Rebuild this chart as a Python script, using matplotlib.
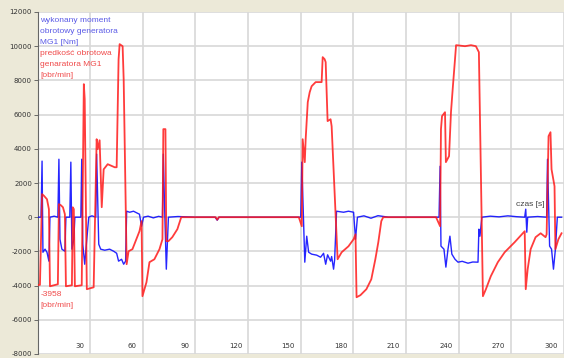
import numpy as np
import matplotlib
matplotlib.use("Agg")
import matplotlib.pyplot as plt
import matplotlib.transforms as mtransforms

# speed of generator MG1 [obr/min]
speed_t = [0, 1.4, 2.6, 3.7, 5.4, 6.5, 7.1, 11.6, 12.2, 13.3, 14.5, 15.6, 16.2, 19.6, 20.1, 20.7,
           21.3, 25.2, 26.4, 26.9, 28.1, 32.0, 33.7, 34.3, 35.4, 36.6, 37.7, 40.0, 44.0, 45.1,
           46.2, 46.8, 48.5, 49.1, 50.8, 51.9, 54.1, 57.0, 58.1, 59.3, 59.8, 62.1, 63.8, 66.6,
           69.5, 71.2, 71.7, 72.9, 73.4, 74.6, 76.8, 79.7, 81.9, 101.5, 102.4, 103.3, 148.9,
           150.6, 151.1, 152.3, 152.8, 154.0, 155.1, 156.2, 158.5, 161.9, 162.5, 163.6, 164.2,
           165.3, 167.0, 167.6, 171.0, 173.3, 177.2, 180.1, 181.2, 181.8, 184.0, 187.4, 190.2,
           192.5, 194.2, 195.9, 197.0, 227.1, 229.4, 229.9, 230.5, 232.2, 232.7, 234.5, 235.6,
           236.7, 237.9, 238.5, 243.6, 247.0, 249.8, 251.5, 253.8, 255.5, 258.3, 262.3, 266.2,
           271.9, 277.6, 278.2, 279.3, 281.0, 283.8, 286.7, 289.5, 290.1, 291.2, 292.3, 292.9,
           294.6, 295.1, 296.8, 298.6]
speed_v = [-3958, -3958, 1350, 1250, 1050, 470, -4040, -3920, 760, 700, 580, 175, -4040, -3980,
           580, 470, -4040, -3980, 7780, 6900, -4210, -4100, 4560, 3980, 4500, 585, 2800, 3100,
           2920, 2920, 9240, 10120, 10000, 8070, -2750, -1990, -1870, -1110, -820, -230, -4620,
           -3800, -2630, -2460, -1870, -1290, 5150, 5150, -1400, -1400, -1170, -700, 0, 0, -150,
           0, 0, -530, 4560, 3220, 4560, 6730, 7310, 7660, 7900, 7900, 9360, 9240, 9070, 5620,
           5730, 5320, -2460, -2050, -1700, -1290, -1000, -4680, -4560, -4210, -3630, -2460,
           -1460, -230, 0, 0, -530, 5150, 5910, 6140, 3220, 3570, 6140, 7660, 9240, 10060, 10000,
           10060, 10000, 9650, -4620, -4210, -3450, -2630, -2050, -1460, -820, -4210, -3040,
           -1870, -1170, -940, -1170, -1000, 4740, 4970, 2800, 1810, -1870, -1290, -940]

# torque of generator MG1 [Nm]
torque_t = [0, 2.0, 2.6, 3.1, 4.3, 5.4, 6.5, 7.1, 9.5, 11.6, 12.2, 12.8, 13.9, 15.6, 16.2, 18.4,
            19.0, 19.6, 20.7, 21.3, 24.7, 25.2, 25.8, 26.9, 28.1, 29.2, 31.0, 33.2, 33.7, 34.9,
            36.0, 38.3, 41.1, 43.4, 45.1, 46.2, 47.9, 49.1, 50.2, 50.8, 52.5, 54.7, 57.0, 58.1,
            59.3, 60.4, 63.0, 66.0, 69.0, 71.2, 71.7, 72.3, 73.4, 74.6, 80.0, 90.0, 101.2, 102.4,
            103.5, 120.0, 135.0, 150.0, 150.6, 152.3, 153.4, 154.5, 156.2, 159.1, 161.3, 163.0,
            164.2, 165.3, 167.0, 167.6, 168.7, 169.3, 170.4, 174.4, 177.2, 180.1, 181.2, 182.3,
            186.0, 190.0, 194.0, 200.0, 228.8, 229.4, 229.9, 231.6, 232.7, 233.9, 235.0, 236.1,
            237.9, 239.6, 242.0, 245.3, 248.0, 251.0, 251.5, 252.1, 253.2, 258.0, 263.0, 268.0,
            273.0, 277.6, 278.2, 278.8, 279.3, 285.0, 290.1, 290.6, 291.8, 292.9, 294.0, 295.1,
            296.2, 298.6]
torque_v = [0, 0, 3280, -2050, -1870, -2050, -2570, 0, 60, 0, 3390, -1290, -1870, -1990, 0, 0,
            3220, -1870, -1290, 0, 0, 3390, -1580, -2750, -1290, 0, 80, 0, 3690, -1580, -1870,
            -1930, -1870, -1990, -2110, -2570, -2460, -2750, -2570, 350, 290, 350, 230, 175, -530,
            0, 60, -40, 50, 0, 3690, 1050, -3040, 0, 40, 0, 0, -175, 0, 0, 0, 0, 3220, -2630,
            -1110, -2050, -2160, -2220, -2340, -2110, -2750, -2200, -2570, -2300, -3040, -2500,
            350, 290, 350, 290, -1290, 0, 80, -60, 90, 0, 0, 2980, -1690, -1870, -2920, -1870,
            -1110, -2160, -2460, -2630, -2580, -2690, -2620, -2630, -700, -1110, 0, 60, 20, 80,
            30, 0, 470, -880, 0, 40, 0, 3390, -1690, -1870, -3040, -1870, 0, 0]

y_ticks = [-8000, -6000, -4000, -2000, 0, 2000, 4000, 6000, 8000, 10000, 12000]
x_ticks = [30, 60, 90, 120, 150, 180, 210, 240, 270, 300]

fig = plt.figure(figsize=(5.64, 3.58), dpi=100, facecolor="#ece9d8")
ax = fig.add_axes([37.5 / 564, 4 / 358, 1 - 37.5 / 564, 342 / 358])
ax.set_facecolor("white")

ax.plot(torque_t, torque_v, color="#0000ff", lw=1.0, alpha=0.85, zorder=3)
ax.plot(speed_t, speed_v, color="#ff1a1a", lw=1.3, alpha=0.85, zorder=4)

ax.set_xlim(0, 298.6)
ax.set_ylim(-8000, 12000)
ax.set_yticks(y_ticks)
ax.set_yticklabels([str(v) for v in y_ticks], fontsize=5, color="#333333")
ax.set_xticks(x_ticks)
ax.set_xticklabels([])
ax.tick_params(axis="x", length=0)
ax.tick_params(axis="y", length=3, width=0.6, color="#555555", pad=1)
ax.grid(True, color="#d8d8d8", lw=1.2)
ax.set_axisbelow(True)
for s in ["top", "right", "bottom"]:
    ax.spines[s].set_visible(False)
ax.spines["left"].set_color("#666666")
ax.spines["left"].set_linewidth(0.8)

# x labels sit left of the grid lines, near the bottom of the plot
base = mtransforms.blended_transform_factory(ax.transData, ax.transAxes)
shifted = mtransforms.offset_copy(base, fig=fig, x=-6, y=0, units="dots")
for t in x_ticks:
    ax.text(t, 0.015, str(t), transform=shifted, ha="right", va="bottom",
            fontsize=5, color="#333333")

# labels
lbl_font = "Liberation Sans"
blue_lbl = "#5a5ae6"
red_lbl = "#f04a4a"
fs = 6.0
step = 11 / 342
for i, s in enumerate(["wykonany moment", "obrotowy generatora", "MG1 [Nm]"]):
    ax.text(0.005, 0.975 - i * step, s, transform=ax.transAxes, fontsize=fs,
            family=lbl_font, color=blue_lbl, va="center", ha="left")
for i, s in enumerate(["predkość obrotowa", "genaratora MG1", "[obr/min]"]):
    ax.text(0.005, 0.975 - (i + 3) * step, s, transform=ax.transAxes, fontsize=fs,
            family=lbl_font, color=red_lbl, va="center", ha="left")
ax.text(0.005, 0.175, "-3958", transform=ax.transAxes, fontsize=fs, family=lbl_font,
        color=red_lbl, va="center", ha="left")
ax.text(0.005, 0.175 - step, "[obr/min]", transform=ax.transAxes, fontsize=fs,
        family=lbl_font, color=red_lbl, va="center", ha="left")
ax.text(272.5, 520, "czas [s]", fontsize=6, family=lbl_font, color="#444444",
        ha="left", va="bottom")

fig.savefig("out.png", dpi=100, facecolor=fig.get_facecolor())
